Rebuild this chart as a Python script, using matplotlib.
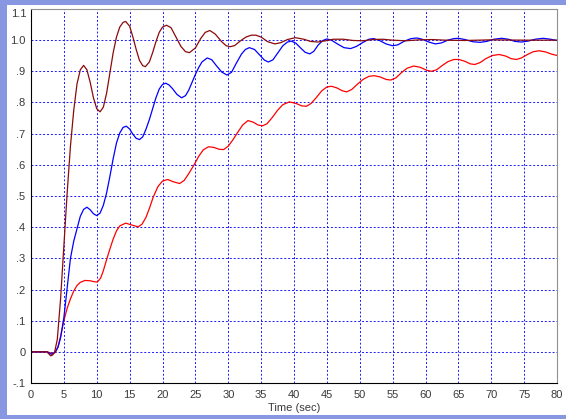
"""
Closed-loop step responses of three tunings, plotted against time.
"""
import matplotlib
matplotlib.use("Agg")
import matplotlib.pyplot as plt
from matplotlib.patches import Rectangle

# fast tuning (dark red)
fast_t = [0, 2.4, 2.7, 3.0, 3.3, 3.6, 4.0, 4.5, 5.0, 5.5, 6.0, 6.5, 7.0, 7.5,
          8.0, 8.5, 9.0, 9.5, 10.0, 10.5, 11.0, 11.5, 12.0, 12.5, 13.0, 13.5,
          14.0, 14.4, 15.0, 15.5, 16.0, 16.5, 17.0, 17.4, 18.0, 18.5, 19.0,
          19.5, 20.0, 20.6, 21.3, 22.0, 22.8, 23.5, 24.1, 25.0, 25.8, 26.5,
          27.2, 28.0, 29.0, 29.7, 30.3, 31.0, 31.8, 32.7, 33.5, 34.2, 35.0,
          36.0, 37.1, 38.0, 39.0, 40.2, 41.5, 42.5, 43.6, 44.8, 46.0, 47.5,
          49.0, 50.5, 52.0, 53.5, 55.0, 57.0, 59.0, 61.0, 63.0, 66.0, 70.0,
          75.0, 80.0]
fast_y = [0, 0, -0.006, -0.013, -0.010, 0.0, 0.04, 0.17, 0.34, 0.51, 0.66,
          0.775, 0.86, 0.905, 0.919, 0.905, 0.865, 0.815, 0.78, 0.77, 0.785,
          0.83, 0.895, 0.96, 1.01, 1.042, 1.057, 1.06, 1.045, 1.01, 0.97,
          0.935, 0.918, 0.915, 0.93, 0.96, 0.995, 1.025, 1.042, 1.048, 1.04,
          1.012, 0.98, 0.963, 0.96, 0.975, 1.005, 1.025, 1.031, 1.02, 0.995,
          0.982, 0.979, 0.983, 0.997, 1.01, 1.016, 1.016, 1.01, 0.995, 0.988,
          0.992, 1.002, 1.008, 1.003, 0.996, 0.994, 0.998, 1.003, 1.003,
          0.999, 0.998, 1.002, 1.003, 1.0, 0.998, 1.001, 1.002, 1.0, 0.999,
          1.001, 1.0, 1.0]

# medium tuning (blue)
mid_t = [0, 2.4, 2.8, 3.1, 3.4, 3.7, 4.1, 4.5, 5.0, 5.5, 6.0, 6.5, 7.0, 7.5,
         8.0, 8.5, 9.0, 9.5, 10.0, 10.5, 11.0, 11.5, 12.0, 12.5, 13.0,
         13.5, 14.0, 14.5, 15.0, 15.5, 16.0, 16.5, 17.0, 17.5, 18.0, 18.5,
         19.0, 19.5, 20.0, 20.5, 21.0, 21.5, 22.2, 22.9, 23.5, 24.0, 24.5,
         25.0, 25.5, 26.0, 26.8, 27.5, 28.2, 29.0, 29.8, 30.5, 31.2, 32.0,
         32.6, 33.2, 34.0, 34.8, 35.5, 36.1, 36.8, 37.5, 38.3, 39.0, 39.6,
         40.3, 41.0, 41.7, 42.4, 43.0, 43.7, 44.4, 45.0, 45.7, 46.6, 47.6,
         48.6, 49.5, 50.5, 51.4, 52.1, 53.0, 54.0, 55.0, 55.8, 56.8, 57.8,
         58.7, 59.5, 60.5, 61.5, 62.4, 63.4, 64.3, 65.0, 66.0, 67.2, 68.3,
         69.3, 70.4, 71.6, 72.6, 73.6, 74.6, 75.6, 76.7, 77.9, 79.0, 80.0]
mid_y = [0, 0, -0.004, -0.008, -0.005, 0.0, 0.015, 0.045, 0.11, 0.205, 0.30,
         0.355, 0.395, 0.435, 0.457, 0.464, 0.456, 0.443, 0.437, 0.445,
         0.47, 0.51, 0.563, 0.62, 0.67, 0.702, 0.72, 0.724, 0.715, 0.698,
         0.685, 0.681, 0.69, 0.715, 0.745, 0.78, 0.815, 0.843, 0.858, 0.862,
         0.856, 0.845, 0.826, 0.815, 0.822, 0.84, 0.865, 0.89, 0.912, 0.93,
         0.943, 0.937, 0.918, 0.898, 0.888, 0.897, 0.925, 0.955, 0.97, 0.976,
         0.97, 0.952, 0.936, 0.93, 0.937, 0.958, 0.982, 0.994, 0.997, 0.99,
         0.975, 0.961, 0.956, 0.964, 0.985, 0.999, 1.004, 1.0, 0.988, 0.976,
         0.973, 0.98, 0.993, 1.003, 1.005, 0.999, 0.988, 0.982, 0.985, 0.997,
         1.005, 1.007, 1.003, 0.994, 0.988, 0.991, 1.0, 1.005, 1.006, 1.002,
         0.995, 0.993, 0.996, 1.003, 1.006, 1.003, 0.996, 0.994, 0.997, 1.003,
         1.006, 1.003, 0.999]

# slow tuning (red)
slow_t = [0, 2.5, 2.9, 3.3, 3.7, 4.1, 4.5, 5.0, 5.5, 6.0, 6.5, 7.0, 7.5, 8.2,
          9.0, 9.6, 10.1, 10.6, 11.0, 11.5, 12.0, 12.5, 13.0, 13.5, 14.4,
          15.3, 16.3, 16.9, 17.5, 18.0, 18.6, 19.3, 20.0, 20.8, 21.6, 22.6,
          23.3, 24.0, 24.8, 25.5, 26.2, 27.0, 27.8, 28.6, 29.3, 30.0, 30.7,
          31.4, 32.2, 33.0, 33.8, 34.5, 35.2, 35.9, 36.7, 37.5, 38.3, 39.3,
          40.3, 41.2, 41.9, 42.6, 43.4, 44.2, 45.0, 45.7, 46.5, 47.3, 48.0,
          48.8, 49.6, 50.5, 51.4, 52.2, 53.1, 54.0, 54.7, 55.5, 56.3, 57.2,
          58.2, 59.2, 60.1, 60.9, 61.7, 62.5, 63.4, 64.3, 65.1, 66.0, 66.8,
          67.5, 68.3, 69.2, 70.2, 71.2, 72.2, 73.0, 73.8, 74.6, 75.5, 76.4,
          77.3, 78.3, 79.2, 80.0]
slow_y = [0, 0, -0.003, -0.006, -0.002, 0.015, 0.05, 0.1, 0.14, 0.17, 0.195,
          0.213, 0.223, 0.229, 0.228, 0.225, 0.224, 0.237, 0.26, 0.296, 0.33,
          0.362, 0.388, 0.404, 0.413, 0.407, 0.401, 0.41, 0.432, 0.46, 0.497,
          0.53, 0.548, 0.553, 0.546, 0.54, 0.55, 0.572, 0.6, 0.627, 0.648,
          0.658, 0.656, 0.65, 0.649, 0.66, 0.68, 0.703, 0.728, 0.742, 0.737,
          0.728, 0.725, 0.732, 0.752, 0.775, 0.793, 0.802, 0.797, 0.789,
          0.788, 0.797, 0.816, 0.837, 0.85, 0.852, 0.847, 0.838, 0.834, 0.842,
          0.858, 0.874, 0.884, 0.886, 0.882, 0.874, 0.872, 0.879, 0.895,
          0.91, 0.917, 0.913, 0.904, 0.9, 0.905, 0.918, 0.931, 0.938, 0.938,
          0.932, 0.924, 0.922, 0.928, 0.941, 0.951, 0.954, 0.949, 0.941,
          0.938, 0.943, 0.954, 0.963, 0.966, 0.962, 0.955, 0.951]

x_ticks = list(range(0, 81, 5))
y_ticks = [-0.1, 0, 0.1, 0.2, 0.3, 0.4, 0.5, 0.6, 0.7, 0.8, 0.9, 1.0, 1.1]
y_tick_labels = ["-.1", "0", ".1", ".2", ".3", ".4", ".5", ".6", ".7", ".8",
                 ".9", "1.0", "1.1"]


def main():
    plt.rcParams["font.family"] = ["Liberation Sans", "DejaVu Sans"]
    fig = plt.figure(figsize=(5.66, 4.19), dpi=100, facecolor="white")
    ax = fig.add_axes([31 / 566, 1 - 383 / 419, 526 / 566, 374 / 419])

    # window frame around the plot
    frame = "#8797e2"
    fig.add_artist(Rectangle((0, 1 - 5 / 419), 1, 5 / 419,
                             transform=fig.transFigure, color=frame, lw=0))
    fig.add_artist(Rectangle((0, 0), 7 / 566, 1,
                             transform=fig.transFigure, color=frame, lw=0))
    fig.add_artist(Rectangle((0, 0), 1, 4 / 419,
                             transform=fig.transFigure, color=frame, lw=0))

    ax.plot(slow_t, slow_y, color="#ff0000", lw=0.9)
    ax.plot(mid_t, mid_y, color="#0000ff", lw=0.9)
    ax.plot(fast_t, fast_y, color="#8b0a0a", lw=0.9)

    ax.set_xlim(0, 80)
    ax.set_ylim(-0.1, 1.1)
    ax.set_xticks(x_ticks)
    ax.set_yticks(y_ticks)
    ax.set_yticklabels(y_tick_labels[:-1] + [""])
    # the top label sits a little lower so it stays inside the frame
    ax.text(-0.008, 1.1, y_tick_labels[-1], transform=ax.get_yaxis_transform(),
            ha="right", va="top", fontsize=8, color="#3a3a3a")
    ax.tick_params(length=0, labelsize=8, labelcolor="#3a3a3a")
    ax.tick_params(axis="y", pad=4)
    ax.tick_params(axis="x", pad=5)

    ax.grid(True, color="#1a1aff", lw=0.7, linestyle=(0, (2, 2)))
    ax.spines["left"].set_color("black")
    ax.spines["bottom"].set_color("black")
    ax.spines["top"].set_color("#909090")
    ax.spines["right"].set_color("#909090")

    ax.set_xlabel("Time (sec)", fontsize=8, color="#3a3a3a", labelpad=2)

    fig.savefig("out.png", dpi=100)


if __name__ == "__main__":
    main()
